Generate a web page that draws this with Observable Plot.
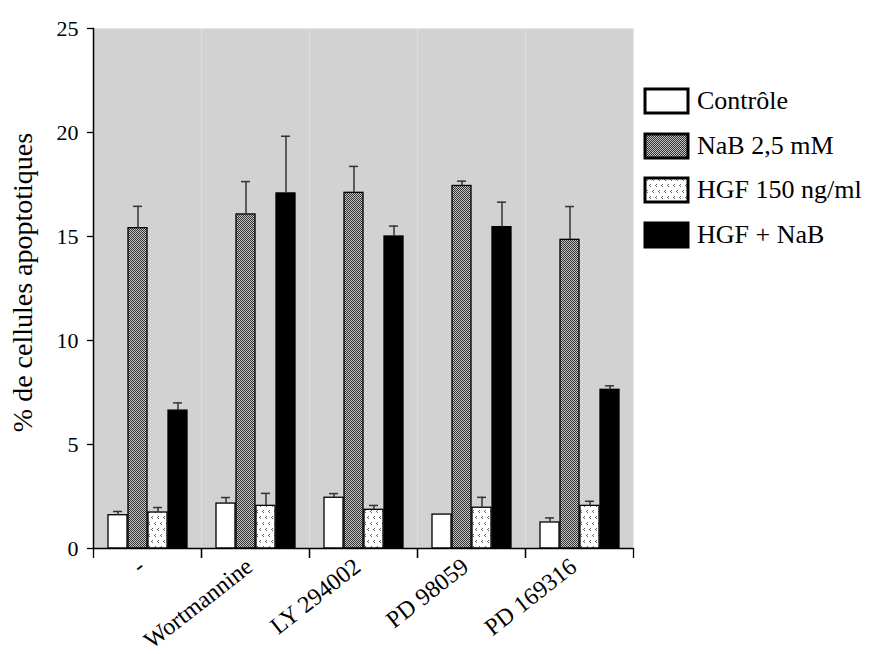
<!DOCTYPE html>
<html><head><meta charset="utf-8">
<script src="https://cdn.jsdelivr.net/npm/d3@7"></script>
<script src="https://cdn.jsdelivr.net/npm/@observablehq/plot@0.6"></script>
<style>
body{margin:0;background:#fff;}
#wrap{position:relative;width:875px;height:654px;}
#wrap svg text{font-family:"Liberation Serif","Times New Roman",serif !important;fill:#000;}
#leg{position:absolute;left:645px;top:86px;width:230px;font-family:"Liberation Serif",serif;}
#leg .leg-swatch{margin-bottom:13.5px;}
#leg .leg-swatch svg{margin-right:9px;}
#leg .leg-swatch rect{stroke:#000;stroke-width:3px;}
</style></head><body>
<svg width="0" height="0" style="position:absolute">
<defs>
<pattern id="bg" width="2" height="2" patternUnits="userSpaceOnUse"><rect width="2" height="2" fill="#fff"/><rect width="1" height="1" fill="#a4a4a4"/><rect x="1" y="1" width="1" height="1" fill="#a4a4a4"/></pattern>
<pattern id="nab" width="2" height="2" patternUnits="userSpaceOnUse"><rect width="2" height="2" fill="#c4c4c4"/><rect width="1" height="1" fill="#333"/><rect x="1" y="1" width="1" height="1" fill="#333"/></pattern>
<pattern id="hgf" width="6" height="12" patternUnits="userSpaceOnUse"><rect width="6" height="12" fill="#fff"/><path d="M2 0h1v1h-1zM1 1h1v1h-1zM2 2h1v1h-1z" fill="#666"/><path d="M5 6h1v1h-1zM4 7h1v1h-1zM5 8h1v1h-1z" fill="#666"/></pattern>
</defs></svg>
<div id="wrap"><div id="leg"></div></div>
<script>
const categories = ["-", "Wortmannine", "LY 294002", "PD 98059", "PD 169316"];
const series = ["Contrôle", "NaB 2,5 mM", "HGF 150 ng/ml", "HGF + NaB"];
const controle    = [1.60, 2.16, 2.44, 1.63, 1.25];
const controleErr = [0.18, 0.29, 0.20, 0.00, 0.22];
const nab         = [15.40, 16.06, 17.10, 17.43, 14.84];
const nabErr      = [1.05, 1.58, 1.27, 0.23, 1.60];
const hgf         = [1.73, 2.05, 1.86, 1.96, 2.05];
const hgfErr      = [0.24, 0.60, 0.21, 0.50, 0.22];
const hgfNab      = [6.63, 17.07, 15.00, 15.45, 7.63];
const hgfNabErr   = [0.37, 2.75, 0.50, 1.20, 0.19];
const yTicks = [0, 5, 10, 15, 20, 25];
const yLabel = "% de cellules apoptotiques";
const fills = ["white", "url(#nab)", "url(#hgf)", "black"];

const values = [controle, nab, hgf, hgfNab];
const errs = [controleErr, nabErr, hgfErr, hgfNabErr];
const rows = categories.flatMap((c, i) => series.map((s, j) => ({cat: c, series: s, value: values[j][i], err: errs[j][i]})));
const errRows = rows.filter(d => d.err > 0);

const W = 875, H = 654, ml = 93, mr = 242, mt = 28, mb = 106;
const bw = (W - ml - mr) / categories.length;
const font = '"Liberation Serif", "Times New Roman", serif';

const chart = Plot.plot({
  width: W, height: H, marginLeft: ml, marginRight: mr, marginTop: mt, marginBottom: mb,
  style: `font-family: ${font}; color: #000; background: transparent; overflow: visible;`,
  fx: {domain: categories, padding: 0, label: null},
  x: {domain: series, paddingInner: 0.05, paddingOuter: 0.725, axis: null},
  y: {domain: [0, 25], ticks: yTicks},
  color: {domain: series, range: fills},
  marks: [
    Plot.frame({fill: "url(#bg)", stroke: "none"}),
    Plot.barY(rows, {fx: "cat", x: "series", y: "value", fill: "series", stroke: "#000", strokeWidth: 1.3}),
    Plot.ruleX(errRows, {fx: "cat", x: "series", y1: "value", y2: d => d.value + d.err, stroke: "#333", strokeWidth: 1.5}),
    Plot.tickY(errRows, {fx: "cat", x: "series", y: d => d.value + d.err, stroke: "#333", strokeWidth: 1.5, insetLeft: 5, insetRight: 5}),
    Plot.ruleY([0], {stroke: "#000", strokeWidth: 1.5}),
    Plot.frame({anchor: "left", facetAnchor: "left", stroke: "#000", strokeWidth: 1.5}),
    Plot.axisY({ticks: yTicks, tickSize: 6, tickPadding: 9, fontSize: 22, fontFamily: font, tickFormat: d => String(d), label: null, strokeWidth: 1.3}),
    Plot.text([yLabel], {frameAnchor: "left", facetAnchor: "left", textAnchor: "middle", rotate: -90, dx: -70, dy: -6, fontSize: 28, fontFamily: font, fill: "#000", text: d => d}),
    Plot.axisFx({anchor: "bottom", tickSize: 0, tickPadding: 15, tickRotate: -38, fontSize: 24, fontFamily: font, dx: -6, label: null}),
    Plot.axisFx({anchor: "bottom", tickFormat: () => "", tickSize: 10, dx: -bw / 2, label: null, strokeWidth: 1.3}),
    Plot.axisFx({anchor: "bottom", tickFormat: () => "", tickSize: 10, dx: bw / 2, label: null, strokeWidth: 1.3})
  ]
});
document.getElementById("wrap").prepend(chart);

const leg = Plot.legend({
  color: {domain: series, range: fills},
  legend: "swatches", columns: 1, swatchWidth: 43, swatchHeight: 24, className: "leg",
  style: {fontFamily: font, fontSize: "26px", color: "#000"}
});
document.getElementById("leg").appendChild(leg);
</script>
</body></html>
